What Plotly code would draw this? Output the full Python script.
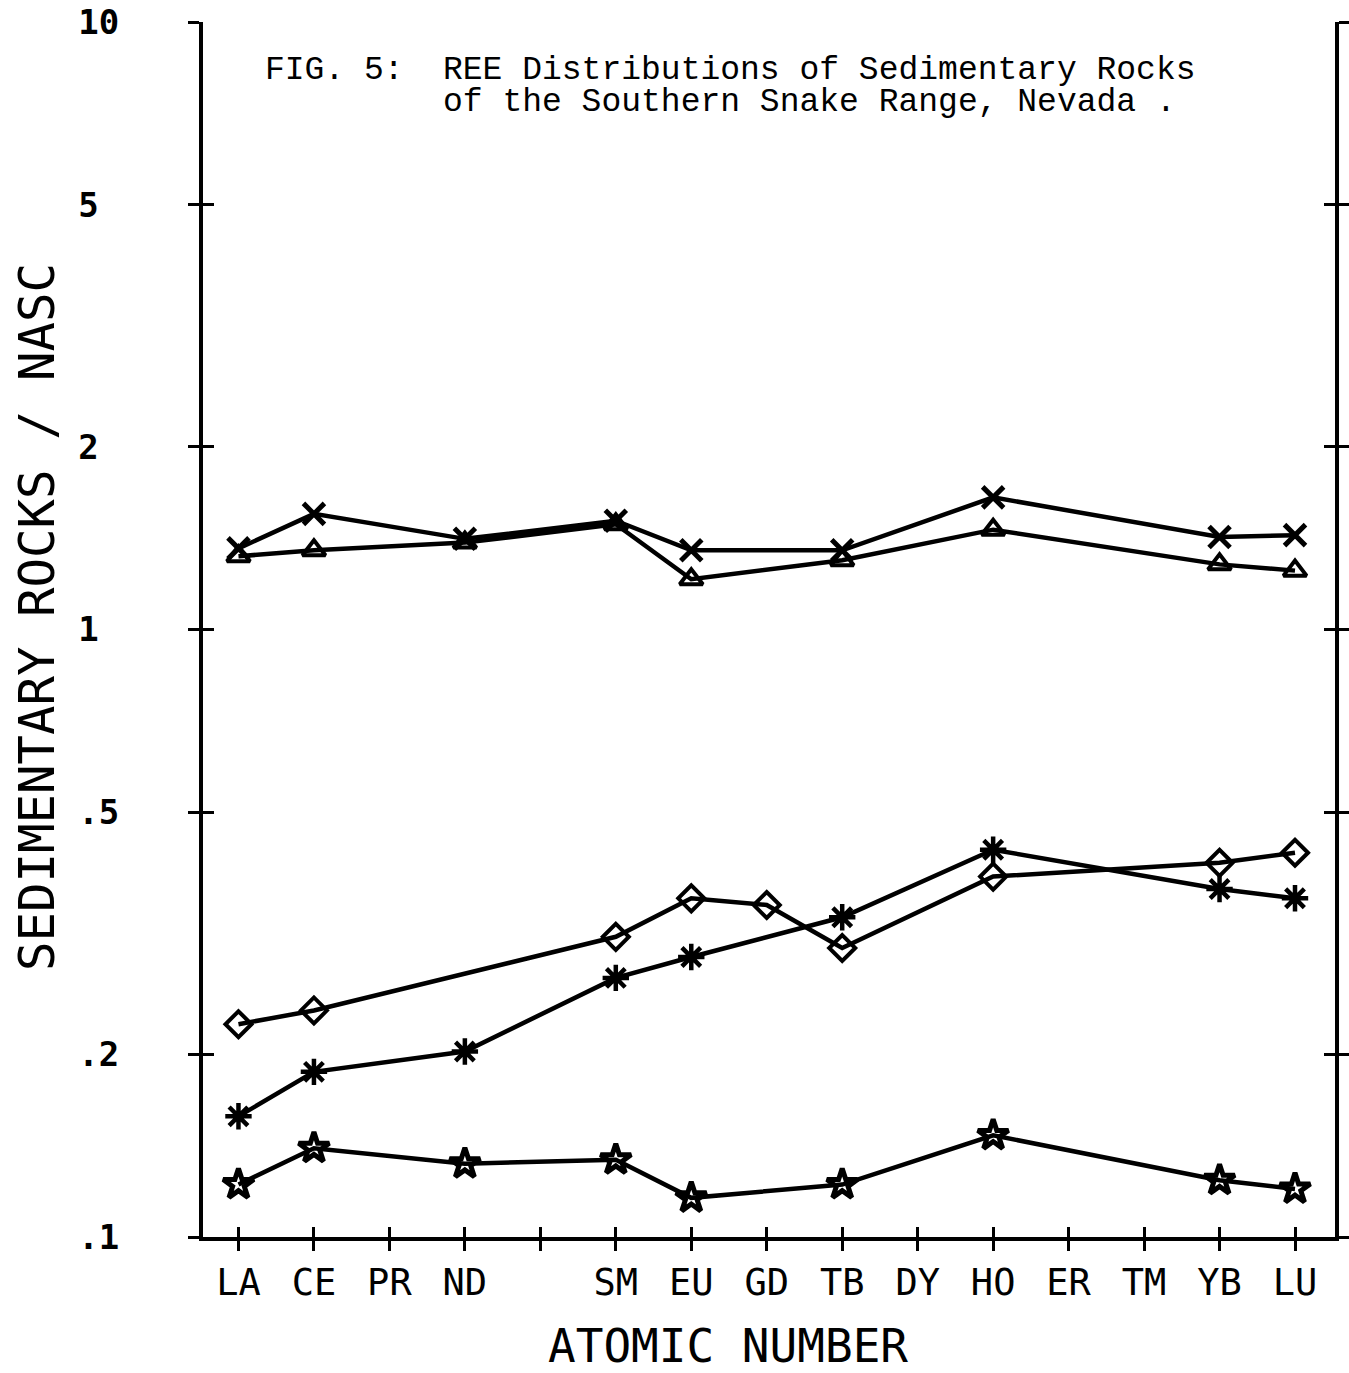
import plotly.graph_objects as go

# Atomic numbers and labels
tick_z = [57, 58, 59, 60, 61, 62, 63, 64, 65, 66, 67, 68, 69, 70, 71]
tick_labels = ["LA", "CE", "PR", "ND", "", "SM", "EU", "GD", "TB", "DY", "HO", "ER", "TM", "YB", "LU"]

# Series (REE / NASC)
z_main = [57, 58, 60, 62, 63, 65, 67, 70, 71]
s_cross = [1.36, 1.55, 1.41, 1.51, 1.35, 1.35, 1.65, 1.42, 1.43]
s_tri = [1.32, 1.35, 1.39, 1.49, 1.21, 1.30, 1.46, 1.28, 1.25]

z_diamond = [57, 58, 62, 63, 64, 65, 67, 70, 71]
s_diamond = [0.224, 0.236, 0.312, 0.361, 0.352, 0.299, 0.392, 0.413, 0.429]

z_ast = [57, 58, 60, 62, 63, 65, 67, 70, 71]
s_ast = [0.158, 0.187, 0.202, 0.267, 0.289, 0.336, 0.434, 0.374, 0.361]

s_star = [0.122, 0.140, 0.132, 0.134, 0.116, 0.122, 0.147, 0.124, 0.120]

y_tickvals = [0.1, 0.2, 0.5, 1, 2, 5, 10]
y_ticktext = [".1", ".2", ".5", "1\u00a0", "2\u00a0", "5\u00a0", "10"]

fig = go.Figure()

def add(x, y, sym, size, lw):
    fig.add_trace(go.Scatter(
        x=x, y=y, mode="lines+markers",
        line=dict(color="black", width=4.5),
        marker=dict(symbol=sym, size=size, color="black",
                    line=dict(color="black", width=lw)),
        showlegend=False, hoverinfo="skip"))

add(z_main, s_cross, "x-thin", 21, 5)
add(z_main, s_tri, "triangle-up-open", 20, 4)
add(z_diamond, s_diamond, "diamond-open", 20, 4)
add(z_ast, s_ast, "asterisk-open", 22, 4.5)
add(z_main, s_star, "star-open", 23, 5)

# empty trace to activate overlay axes (inside tick halves)
fig.add_trace(go.Scatter(x=[], y=[], xaxis="x2", yaxis="y2", showlegend=False))

xr = [56.53, 71.53]
yr = [-1, 1]

fig.update_layout(
    width=1349, height=1373,
    margin=dict(l=203, r=14, t=22, b=136, autoexpand=False),
    paper_bgcolor="white", plot_bgcolor="white",
    xaxis=dict(range=xr, tickvals=tick_z, ticktext=tick_labels, automargin=False,
               ticks="outside", ticklen=10, tickwidth=3, tickcolor="black",
               showline=True, linewidth=4, linecolor="black", mirror=False,
               showgrid=False, zeroline=False,
               tickfont=dict(family="DejaVu Sans Mono", size=37, color="black"),
               ticklabelstandoff=0),
    yaxis=dict(type="log", range=yr, tickvals=y_tickvals, ticktext=y_ticktext, automargin=False,
               ticks="outside", ticklen=11, tickwidth=3, tickcolor="black",
               showline=True, linewidth=4, linecolor="black", mirror="ticks",
               showgrid=False, zeroline=False,
               tickfont=dict(family="DejaVu Sans Mono", size=34, color="black", weight="bold"),
               ticklabelstandoff=62),
    xaxis2=dict(range=xr, overlaying="x", side="bottom", anchor="y2", automargin=False,
                tickvals=tick_z, ticks="inside", ticklen=10, tickwidth=3, tickcolor="black",
                showticklabels=False, showline=False, showgrid=False, zeroline=False),
    yaxis2=dict(type="log", range=yr, overlaying="y", side="left", anchor="x2", automargin=False,
                tickvals=y_tickvals, ticks="inside", ticklen=11, tickwidth=3, tickcolor="black",
                mirror="ticks", showticklabels=False, showline=False,
                showgrid=False, zeroline=False),
)

PW = 1349 - 203 - 14
PH = 1373 - 22 - 136

def px(x):
    return (x - 203) / PW

def py(y):
    return 1 - (y - 22) / PH

tfont = dict(family="Liberation Mono", size=33, color="black")
fig.add_annotation(text="FIG. 5:", xref="paper", yref="paper",
                   x=px(263), y=py(70), xanchor="left", yanchor="middle",
                   showarrow=False, font=tfont)
fig.add_annotation(text="REE Distributions of Sedimentary Rocks", xref="paper", yref="paper",
                   x=px(441), y=py(70), xanchor="left", yanchor="middle",
                   showarrow=False, font=tfont)
fig.add_annotation(text="of the Southern Snake Range, Nevada .", xref="paper", yref="paper",
                   x=px(441), y=py(102), xanchor="left", yanchor="middle",
                   showarrow=False, font=tfont)

fig.add_annotation(text="ATOMIC NUMBER", xref="paper", yref="paper",
                   x=px(728), y=py(1346), xanchor="center", yanchor="middle",
                   showarrow=False,
                   font=dict(family="DejaVu Sans Mono", size=46, color="black"))
fig.add_annotation(text="SEDIMENTARY ROCKS / NASC", xref="paper", yref="paper",
                   x=px(37), y=py(617), textangle=-90,
                   xanchor="center", yanchor="middle", showarrow=False,
                   font=dict(family="DejaVu Sans Mono", size=49, color="black"))

fig.write_html("out.html")
